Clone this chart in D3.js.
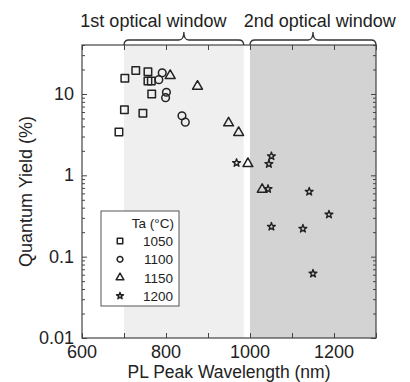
<!DOCTYPE html>
<html>
<head>
<meta charset="utf-8">
<script src="https://cdn.jsdelivr.net/npm/d3@7"></script>
<style>
  body { margin: 0; background: #fff; }
  svg text { font-family: "Liberation Sans", Arial, sans-serif; fill: #222; }
</style>
</head>
<body>
<div id="container"></div>
<script>
var temps = ["1050", "1100", "1150", "1200"];
var wl1050 = [688, 701, 702, 728, 745, 757, 757, 765, 766];
var qy1050 = [3.4, 6.4, 15.6, 19.4, 5.8, 18.8, 14.4, 14.4, 10.0];
var wl1100 = [783, 791, 799, 801, 838, 846];
var qy1100 = [15.0, 18.2, 9.0, 10.5, 5.4, 4.5];
var wl1150 = [810, 875, 949, 973, 995, 1029];
var qy1150 = [16.8, 12.4, 4.4, 3.35, 1.39, 0.67];
var wl1200 = [968, 1043, 1045, 1051, 1051, 1126, 1141, 1150, 1188];
var qy1200 = [1.42, 0.68, 1.38, 1.72, 0.234, 0.221, 0.63, 0.062, 0.33];

// Optical windows (nm) and axis ticks
var windowNames = ["1st optical window", "2nd optical window"];
var windowStart = [700, 1000];
var windowEnd = [985, 1300];
var xTickLabels = [600, 800, 1000, 1200];
var yTickLabels = [0.01, 0.1, 1, 10];

var width = 410;
var height = 382;

var svg = d3.select("#container")
    .append("svg")
    .attr("width", width)
    .attr("height", height);

var x = d3.scaleLinear().domain([600, 1300]).range([82, 376]);
var y = d3.scaleLog().domain([0.01, 40]).range([338, 45]);

// shaded windows
var shades = ["#efefef", "#d3d3d3"];
svg.selectAll("rect.win")
    .data(windowStart)
    .enter()
    .append("rect")
    .attr("class", "win")
    .attr("x", function(d) { return x(d); })
    .attr("y", y(40))
    .attr("width", function(d, i) { return x(windowEnd[i]) - x(d); })
    .attr("height", y(0.01) - y(40))
    .attr("fill", function(d, i) { return shades[i]; });

// axes, ticks pointing inward
var ax = "#444";
var xMinor = d3.range(600, 1301, 100);
svg.append("g").attr("transform", "translate(0," + y(0.01) + ")")
    .call(d3.axisTop(x).tickValues(xMinor).tickSize(5).tickFormat(""));
svg.append("g").attr("transform", "translate(0," + y(40) + ")")
    .call(d3.axisBottom(x).tickValues(xMinor).tickSize(5).tickFormat(""));

var yMinor = [];
[0.01, 0.1, 1, 10].forEach(function(dec) {
    for (var k = 2; k <= 9; k++) { if (dec * k <= 40) yMinor.push(dec * k); }
});
[[x(600), d3.axisRight], [x(1300), d3.axisLeft]].forEach(function(p) {
    svg.append("g").attr("transform", "translate(" + p[0] + ",0)")
        .call(p[1](y).tickValues(yTickLabels).tickSize(5).tickFormat(""));
    svg.append("g").attr("transform", "translate(" + p[0] + ",0)")
        .call(p[1](y).tickValues(yMinor).tickSize(3).tickFormat(""));
});
svg.selectAll(".domain").remove();
svg.selectAll(".tick line").attr("stroke", ax);

svg.append("rect")
    .attr("x", x(600)).attr("y", y(40))
    .attr("width", x(1300) - x(600)).attr("height", y(0.01) - y(40))
    .attr("fill", "none").attr("stroke", ax).attr("stroke-width", 1.2);

// tick labels
svg.selectAll("text.xl")
    .data(xTickLabels)
    .enter()
    .append("text")
    .attr("x", function(d) { return x(d); })
    .attr("y", 358)
    .attr("text-anchor", "middle")
    .style("font-size", "18px")
    .text(function(d) { return d; });

svg.selectAll("text.yl")
    .data(yTickLabels)
    .enter()
    .append("text")
    .attr("x", 74)
    .attr("y", function(d) { return y(d) + 6; })
    .attr("text-anchor", "end")
    .style("font-size", "18px")
    .text(function(d) { return d; });

// axis titles
svg.append("text")
    .attr("x", 229).attr("y", 378)
    .attr("text-anchor", "middle")
    .style("font-size", "17.5px")
    .text("PL Peak Wavelength (nm)");

svg.append("text")
    .attr("transform", "translate(32," + ((y(40) + y(0.01)) / 2) + ") rotate(-90)")
    .attr("text-anchor", "middle")
    .style("font-size", "18px")
    .text("Quantum Yield (%)");

// curly brackets over each window
var textCenter = [770, 1166];
windowStart.forEach(function(s, i) {
    var x1 = x(s), x2 = x(windowEnd[i]) , xm = (x1 + x2) / 2;
    var yb = y(40), yl = yb - 5, yt = yb - 13;
    var p = d3.path();
    p.moveTo(x1, yb);
    p.quadraticCurveTo(x1, yl, x1 + 5, yl);
    p.lineTo(xm - 5, yl);
    p.quadraticCurveTo(xm, yl, xm, yt);
    p.quadraticCurveTo(xm, yl, xm + 5, yl);
    p.lineTo(x2 - 5, yl);
    p.quadraticCurveTo(x2, yl, x2, yb);
    svg.append("path")
        .attr("d", p.toString())
        .attr("fill", "none")
        .attr("stroke", "#333")
        .attr("stroke-width", 1.3);

    svg.append("text")
        .attr("x", x(textCenter[i]))
        .attr("y", 27)
        .attr("text-anchor", "middle")
        .style("font-size", "18px")
        .text(windowNames[i]);
});

// data points
var symbols = [d3.symbolSquare, d3.symbolCircle, d3.symbolTriangle, d3.symbolStar];
var sizes = [56, 46, 42, 19];
var series = [[wl1050, qy1050], [wl1100, qy1100], [wl1150, qy1150], [wl1200, qy1200]];

series.forEach(function(s, i) {
    svg.append("g").selectAll("path")
        .data(s[0])
        .enter()
        .append("path")
        .attr("transform", function(d, j) {
            return "translate(" + x(d) + "," + y(s[1][j]) + ")";
        })
        .attr("d", d3.symbol().type(symbols[i]).size(sizes[i]))
        .attr("fill", "none")
        .attr("stroke", "#222")
        .attr("stroke-linejoin", "round")
        .attr("stroke-width", i == 3 ? 1.4 : 1.5);
});

// legend
var lg = svg.append("g");
lg.append("rect")
    .attr("x", 101).attr("y", 211)
    .attr("width", 78).attr("height", 95)
    .attr("fill", "#fff").attr("stroke", "#555").attr("stroke-width", 1);
lg.append("text")
    .attr("x", 174).attr("y", 228)
    .attr("text-anchor", "end")
    .style("font-size", "13.5px")
    .text("Ta (\u00B0C)");
var legSizes = [30, 26, 26, 14];
temps.forEach(function(t, i) {
    var cy = 241 + i * 18.3;
    lg.append("path")
        .attr("transform", "translate(120," + cy + ")")
        .attr("d", d3.symbol().type(symbols[i]).size(legSizes[i]))
        .attr("fill", "none")
        .attr("stroke", "#222")
        .attr("stroke-linejoin", "round")
        .attr("stroke-width", 1.5);
    lg.append("text")
        .attr("x", 173).attr("y", cy + 5)
        .attr("text-anchor", "end")
        .style("font-size", "13.5px")
        .text(t);
});
</script>
</body>
</html>
